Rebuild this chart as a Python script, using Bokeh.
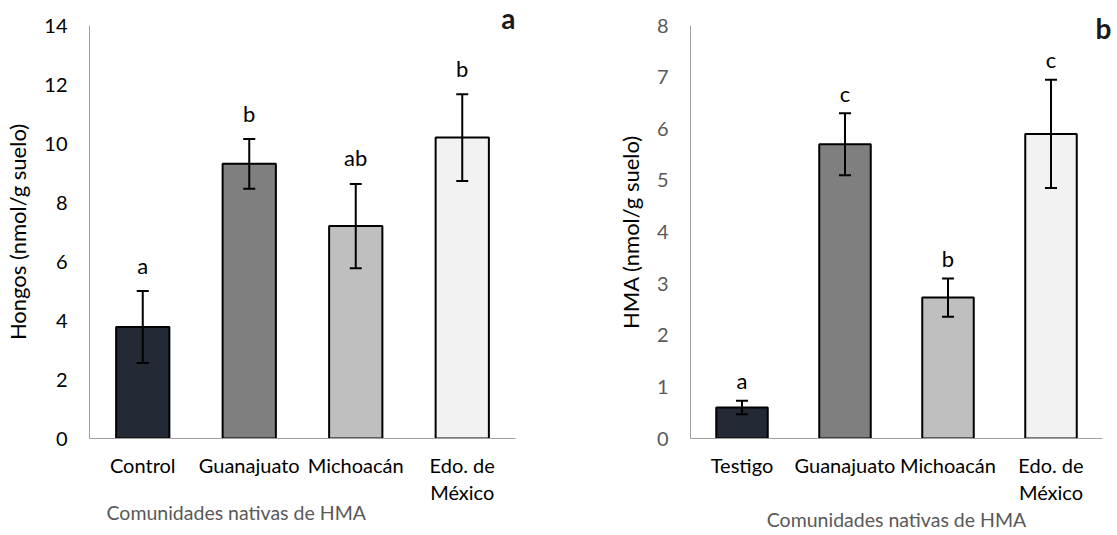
from bokeh.plotting import figure
from bokeh.models import (ColumnDataSource, FactorRange, Range1d, Whisker, TeeHead,
                          Title, FixedTicker)
from bokeh.layouts import row
from bokeh.core.properties import value
from bokeh.embed import file_html
from bokeh.resources import INLINE

# ---------------- data ----------------
cats_a = ["Control", "Guanajuato", "Michoacán", "Edo. de\nMéxico"]
hongos = [3.78, 9.31, 7.20, 10.20]
hongos_err = [1.22, 0.84, 1.43, 1.47]
letters_a = ["a", "b", "ab", "b"]

cats_b = ["Testigo", "Guanajuato", "Michoacán", "Edo. de\nMéxico"]
hma = [0.60, 5.70, 2.73, 5.90]
hma_err = [0.13, 0.60, 0.37, 1.05]
letters_b = ["a", "c", "b", "c"]

yticks_a = [0, 2, 4, 6, 8, 10, 12, 14]
yticks_b = [0, 1, 2, 3, 4, 5, 6, 7, 8]

bar_colors = ["#232a35", "#7f7f7f", "#bfbfbf", "#f2f2f2"]
FONT = "Lato"
AXIS_GRAY = "#a0a0a0"


def make_panel(cats, vals, errs, letters, yticks, ymax, width, height,
               mb_left, mb_right, mb_top, mb_bottom, ylabel, tick_color,
               letter_gap, ylabel_standoff):
    src = ColumnDataSource(dict(
        cat=cats, val=vals,
        upper=[v + e for v, e in zip(vals, errs)],
        lower=[v - e for v, e in zip(vals, errs)],
        letter=letters, color=bar_colors))
    p = figure(x_range=FactorRange(factors=cats), y_range=Range1d(0, ymax),
               width=width, height=height, output_backend="svg",
               toolbar_location=None, min_border_left=mb_left,
               min_border_right=mb_right, min_border_top=mb_top,
               min_border_bottom=mb_bottom)
    p.outline_line_color = None
    p.xgrid.grid_line_color = None
    p.ygrid.grid_line_color = None

    p.vbar(x="cat", top="val", width=0.5, source=src, fill_color="color",
           line_color="black", line_width=2)
    w = Whisker(base="cat", upper="upper", lower="lower", source=src,
                dimension="height", line_color="black", line_width=2,
                level="overlay",
                upper_head=TeeHead(size=12, line_color="black", line_width=2),
                lower_head=TeeHead(size=12, line_color="black", line_width=2))
    p.add_layout(w)
    p.text(x="cat", y="upper", text="letter", source=src,
           text_font=value(FONT), text_font_size="22px", text_color="black",
           text_align="center", text_baseline="alphabetic",
           y_offset=-letter_gap)

    # y axis
    p.yaxis.ticker = FixedTicker(ticks=yticks)
    p.yaxis.axis_line_color = AXIS_GRAY
    p.yaxis.major_tick_line_color = None
    p.yaxis.minor_tick_line_color = None
    p.yaxis.major_tick_out = 0
    p.yaxis.major_tick_in = 0
    p.yaxis.major_label_standoff = 22
    p.yaxis.major_label_text_font = FONT
    p.yaxis.major_label_text_font_size = "20px"
    p.yaxis.major_label_text_color = tick_color
    p.yaxis.axis_label = ylabel
    p.yaxis.axis_label_text_font = FONT
    p.yaxis.axis_label_text_font_size = "22px"
    p.yaxis.axis_label_text_font_style = "normal"
    p.yaxis.axis_label_text_color = "black"
    p.yaxis.axis_label_standoff = ylabel_standoff

    # x axis
    p.xaxis.axis_line_color = AXIS_GRAY
    p.xaxis.major_tick_line_color = None
    p.xaxis.major_tick_out = 0
    p.xaxis.major_tick_in = 0
    p.xaxis.major_label_standoff = 14
    p.xaxis.major_label_text_font = FONT
    p.xaxis.major_label_text_font_size = "20px"
    p.xaxis.major_label_text_color = "black"
    p.xaxis.major_label_text_line_height = 1.15
    return p


pa = make_panel(cats_a, hongos, hongos_err, letters_a, yticks_a, 14,
                560, 535, 89, 45, 25, 97, "Hongos (nmol/g suelo)", "black",
                26, 10)
pb = make_panel(cats_b, hma, hma_err, letters_b, yticks_b, 8,
                557, 535, 130, 15, 25, 97, "HMA (nmol/g suelo)", "#595959",
                20, 10)

# x axis titles
pa.add_layout(Title(text="Comunidades nativas de HMA", align="left", offset=17,
                    standoff=-18, text_font=FONT, text_font_size="19.5px",
                    text_font_style="normal", text_color="#595959"), "below")
pb.add_layout(Title(text="Comunidades nativas de HMA", align="center",
                    standoff=-4, text_font=FONT, text_font_size="19.5px",
                    text_font_style="normal", text_color="#595959"), "below")

# panel letters
pa.add_layout(Title(text="a", align="right", offset=0, standoff=-18,
                    text_font=FONT, text_font_size="28px",
                    text_font_style="bold", text_color="#1a1a1a"), "above")
pb.add_layout(Title(text="b", align="right", offset=-9, standoff=-38,
                    text_font=FONT, text_font_size="28px",
                    text_font_style="bold", text_color="#1a1a1a"), "above")

layout = row(pa, pb)
open("out.html", "w").write(file_html(layout, INLINE))
